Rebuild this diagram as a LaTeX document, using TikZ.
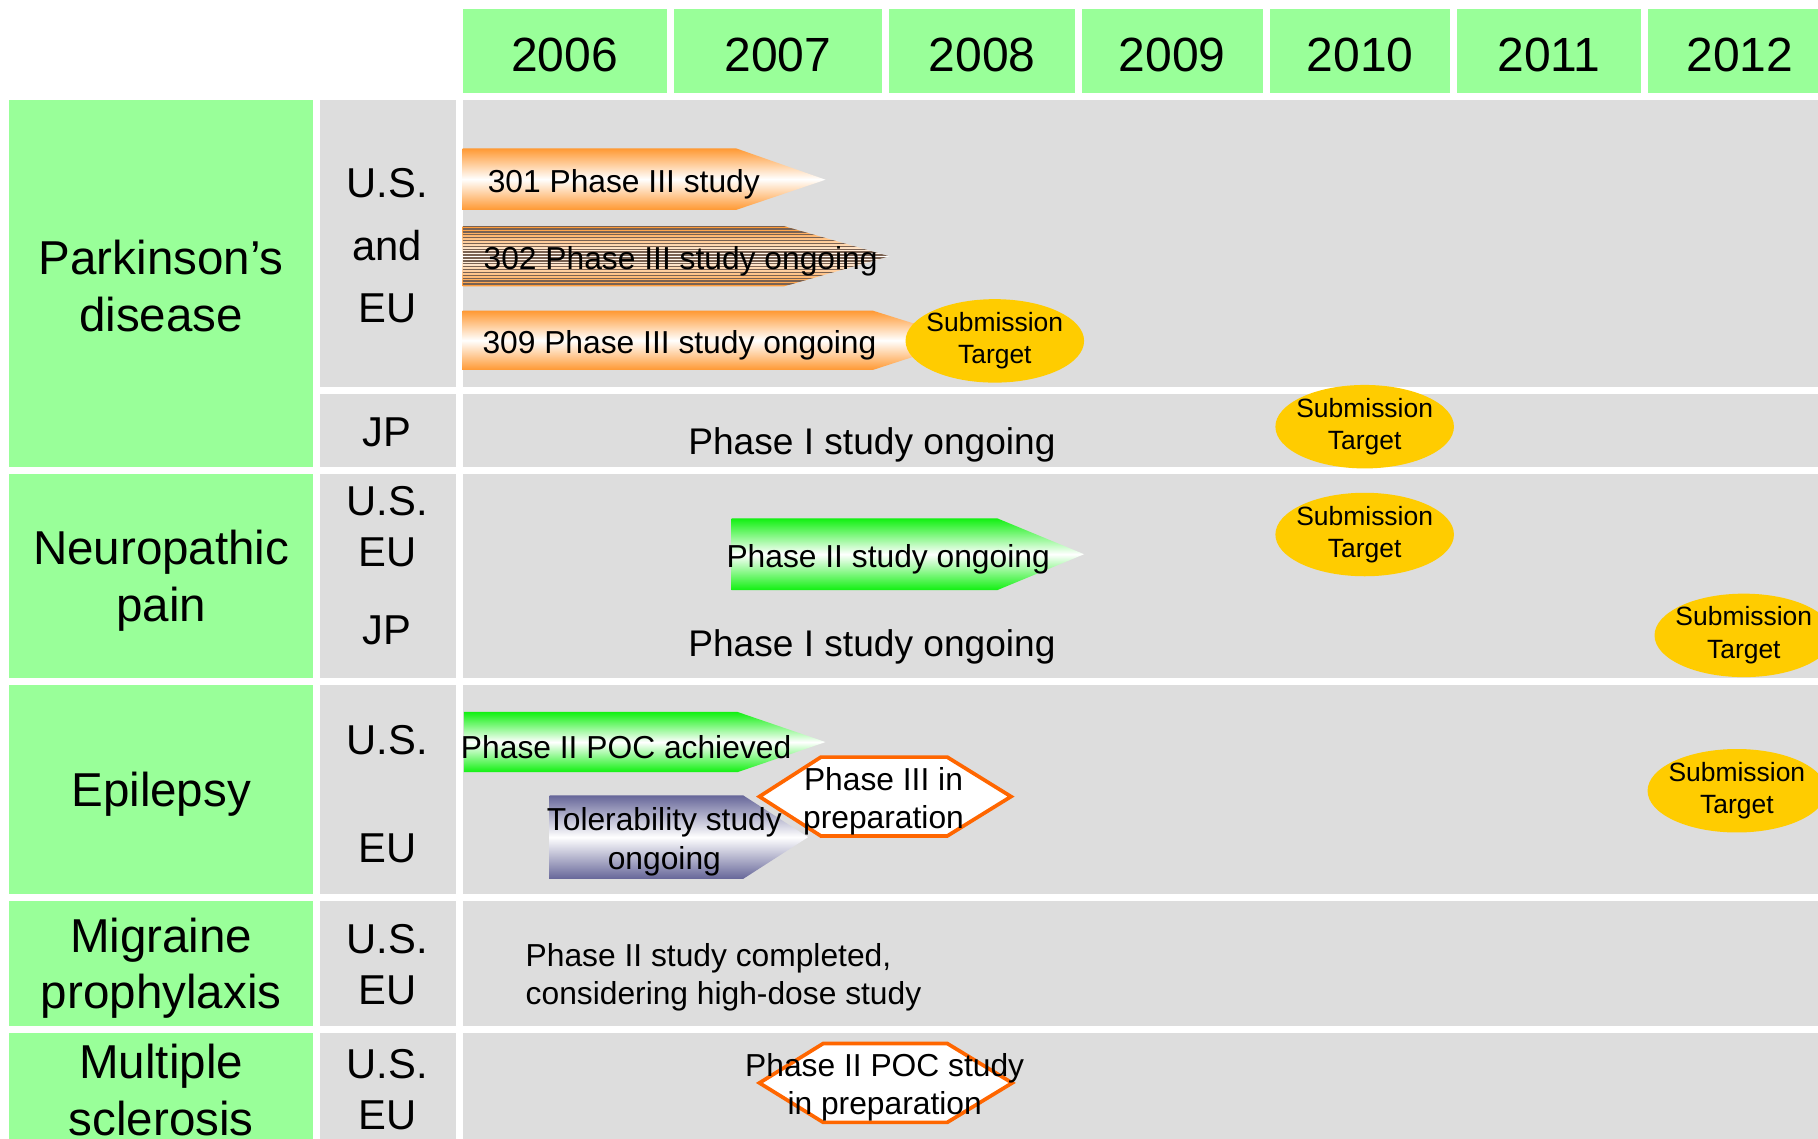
\documentclass[tikz,border=0pt]{standalone}
\usepackage{fontspec}
\setmainfont{Liberation Sans}
\usetikzlibrary{shapes.geometric}

\definecolor{headgreen}{HTML}{99FF99}
\definecolor{cellgray}{HTML}{DDDDDD}
\definecolor{barorange}{HTML}{FF9933}
\definecolor{bargreen}{HTML}{11F011}
\definecolor{barblue}{HTML}{666699}
\definecolor{stripebrown}{HTML}{7A6252}
\definecolor{targetyellow}{HTML}{FFCC00}
\definecolor{prepline}{HTML}{FF6600}

\begin{document}
\begin{tikzpicture}[x=0.5pt,y=-0.5pt,
    head/.style={fill=headgreen},
    cell/.style={fill=cellgray},
    yeartext/.style={font=\fontsize{20.7}{24}\selectfont},
    disease/.style={font=\fontsize{20.5}{24.5}\selectfont, align=center},
    region/.style={font=\fontsize{18}{22}\selectfont, align=center},
    bartext/.style={font=\fontsize{13.7}{16.5}\selectfont, align=center, inner sep=0pt},
    plaintext/.style={font=\fontsize{16}{19}\selectfont, inner sep=0pt},
    orangebar/.style={top color=barorange, bottom color=barorange, middle color=white},
    greenbar/.style={top color=bargreen, bottom color=bargreen, middle color=white},
    bluebar/.style={top color=barblue, bottom color=barblue, middle color=white},
    target/.style={ellipse, fill=targetyellow, minimum width=77pt, minimum height=36pt,
      inner sep=-10pt, font=\fontsize{11.4}{14}\selectfont, align=center},
    prepbox/.style={draw=prepline, line width=1.6pt, fill=white}
  ]
  \clip (0,0) rectangle (1568,982);
  \fill[white] (0,0) rectangle (1568,982);

  % years
  \foreach \yr/\xa/\xb in {2006/399/575,2007/581/761,2008/767/927,2009/933/1089,
                           2010/1095/1251,2011/1257/1415,2012/1421/1580}{
    \path[head] (\xa,8) rectangle (\xb,80);
    \node[yeartext] (y\yr) at ({(\xa+\xb)/2},47) {\yr};
  }

  % grid
  \foreach \ya/\yb in {86/334,340/403,409/585,591/771,777/885,891/1000}{
    \path[cell] (276,\ya) rectangle (393,\yb);
    \path[cell] (399,\ya) rectangle (1580,\yb);
  }
  \foreach \ya/\yb in {86/403,409/585,591/771,777/885,891/1000}
    \path[head] (8,\ya) rectangle (270,\yb);

  \node[disease] (park) at (139,247) {Parkinson’s\\disease};
  \node[disease] (neuro) at (139,501) {Neuropathic\\pain};
  \node[disease] (epi) at (139,685) {Epilepsy};
  \node[disease] (migr) at (139,835) {Migraine\\prophylaxis};
  \node[disease] (ms) at (139,940) {Multiple\\sclerosis};

  \node[region, font=\fontsize{18}{27}\selectfont] (park-useu) at (334,212) {U.S.\\and\\EU};
  \node[region] (park-jp) at (334,373) {JP};
  \node[region] (neuro-useu) at (334,454) {U.S.\\EU};
  \node[region] (neuro-jp) at (334,544) {JP};
  \node[region] (epi-us) at (334,638) {U.S.};
  \node[region] (epi-eu) at (334,732) {EU};
  \node[region] (migr-useu) at (334,832) {U.S.\\EU};
  \node[region] (ms-useu) at (334,940) {U.S.\\EU};

  % bars
  \path[orangebar] (399,128) -- (635,128) -- (712,155) -- (635,181) -- (399,181) -- cycle;
  \begin{scope}
    \clip (399,195) -- (676,195) -- (767,221) -- (676,247) -- (399,247) -- cycle;
    \path[orangebar] (399,195) rectangle (767,247);
    \foreach \yy in {195,197.5,...,247}
      \draw[stripebrown, line width=0.6pt] (399,\yy) -- (767,\yy);
  \end{scope}
  \path[orangebar] (399,268) -- (753,268) -- (833,293) -- (753,319) -- (399,319) -- cycle;
  \path[greenbar] (631,447) -- (860,447) -- (935,478) -- (860,509) -- (631,509) -- cycle;
  \path[greenbar] (400,614) -- (636,614) -- (712,640) -- (636,666) -- (400,666) -- cycle;
  \path[bluebar] (474,686) -- (641,686) -- (697,722) -- (641,758) -- (474,758) -- cycle;
  \path[prepbox] (655,687) -- (708,653) -- (817,653) -- (872,687) -- (817,721) -- (708,721) -- cycle;
  \path[prepbox] (655,934) -- (710,900) -- (817,900) -- (873,934) -- (817,968) -- (710,968) -- cycle;

  \node[bartext] (p301) at (538,159) {301 Phase III study};
  \node[bartext] (p302) at (587,225) {302 Phase III study ongoing};
  \node[bartext] (p309) at (586,298) {309 Phase III study ongoing};
  \node[plaintext] (park-ph1) at (752,384) {Phase I study ongoing};
  \node[bartext] (neuro-ph2) at (766,482) {Phase II study ongoing};
  \node[plaintext] (neuro-ph1) at (752,558) {Phase I study ongoing};
  \node[bartext] (epi-poc) at (540,644) {Phase II POC achieved};
  \node[bartext] (epi-tol) at (573,726) {Tolerability study\\ongoing};
  \node[bartext] (epi-prep) at (762,691) {Phase III in\\preparation};
  \node[bartext, align=left] (migr-ph2) at (624,843) {Phase II study completed,\\considering high-dose study};
  \node[bartext] (ms-prep) at (763,938) {Phase II POC study\\in preparation};

  % submission targets
  \node[target] (sub-park-useu) at (858,294) {Submission\\Target};
  \node[target] (sub-park-jp) at (1177,368) {Submission\\Target};
  \node[target] (sub-neuro-useu) at (1177,461) {Submission\\Target};
  \node[target] (sub-neuro-jp) at (1504,548) {Submission\\Target};
  \node[target] (sub-epi) at (1498,682) {Submission\\Target};
\end{tikzpicture}
\end{document}
